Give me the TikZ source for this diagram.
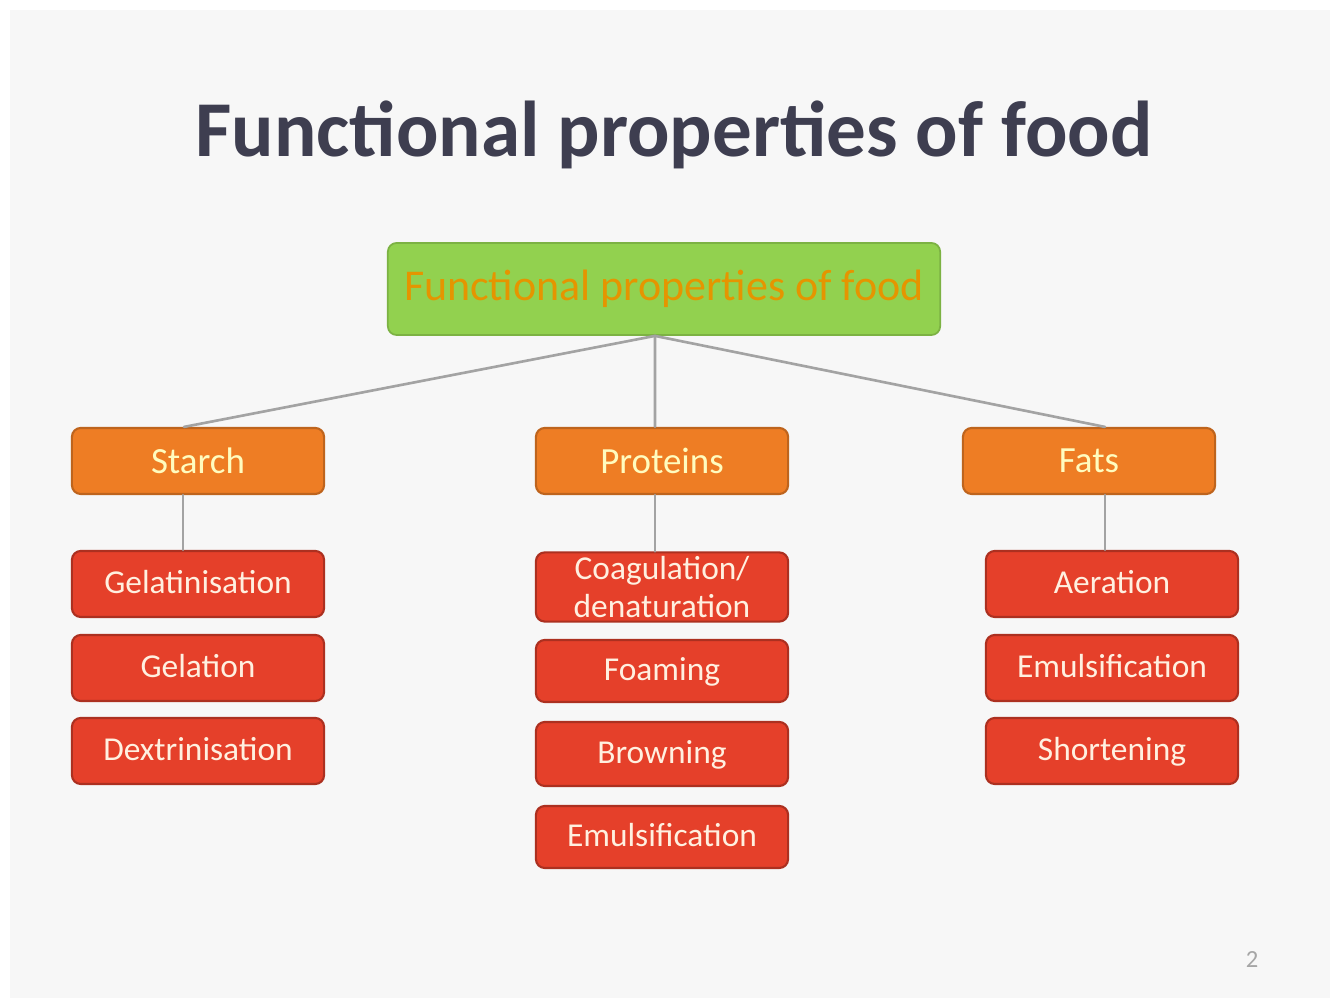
\documentclass[tikz,border=0pt]{standalone}
\usepackage{fontspec}
\setmainfont{Carlito}
\definecolor{slidegray}{HTML}{F7F7F7}
\definecolor{titleink}{HTML}{3E3E50}
\definecolor{leafgreen}{HTML}{92D14F}
\definecolor{catorange}{HTML}{EE7D24}
\definecolor{itemred}{HTML}{E5402A}
\definecolor{linkgray}{HTML}{A3A3A3}
\begin{document}
\begin{tikzpicture}[x=0.01cm,y=-0.01cm,line cap=round,line join=round,
  box/.style={rounded corners=2.5pt,inner sep=1pt,align=center,
    minimum width=2.52cm,minimum height=0.66cm},
  rootbox/.style={box,fill=leafgreen,draw=leafgreen!85!black,line width=0.5pt,
    minimum width=5.52cm,minimum height=0.92cm,font=\fontsize{12.5}{14}\selectfont,
    text=orange!70!yellow!90!black},
  catbox/.style={box,fill=catorange,draw=catorange!80!black,line width=0.6pt,
    font=\fontsize{10.5}{12}\selectfont,text=yellow!25!white},
  itembox/.style={box,fill=itemred,draw=itemred!75!black,line width=0.6pt,
    font=\fontsize{9.5}{11}\selectfont,text=orange!12!white},
  itemline/.style={itembox,text height=1.45ex,text depth=0.35ex},
  link/.style={draw=linkgray,line width=0.75pt}]
  \useasboundingbox (0,0) rectangle (1330,998);
  \fill[white] (0,0) rectangle (1330,998);
  \fill[slidegray] (10,10) rectangle (1330,998);
  % title
  \node[text=titleink,font=\fontsize{22.5}{26}\selectfont\bfseries] (title) at (674,135) {Functional properties of food};
  % top level
  \node[rootbox] (food) at (664,289) {Functional properties of food};
  % groups
  \node[catbox] (starch) at (198,461) {Starch};
  \node[catbox] (protein) at (662,461) {Proteins};
  \node[catbox] (fats) at (1089,461) {Fats};
  % starch
  \node[itemline] (gel) at (198,584) {Gelatinisation};
  \node[itemline] (gelation) at (198,668) {Gelation};
  \node[itemline] (dextrin) at (198,751) {Dextrinisation};
  % proteins
  \node[itembox,minimum height=0.67cm] (coag) at (662,587) {Coagulation/\\denaturation};
  \node[itemline,minimum height=0.62cm] (foam) at (662,671) {Foaming};
  \node[itemline,minimum height=0.64cm] (brown) at (662,754) {Browning};
  \node[itemline,minimum height=0.62cm] (pemul) at (662,837) {Emulsification};
  % fats
  \node[itemline] (aer) at (1112,584) {Aeration};
  \node[itemline] (femul) at (1112,668) {Emulsification};
  \node[itemline] (short) at (1112,751) {Shortening};
  % slide number
  \node[text=black!35,font=\fontsize{7}{8}\selectfont] (pgno) at (1252,960) {2};
  % links
  \draw[link] ([xshift=-0.09cm]food.south) -- ([xshift=-0.14cm]starch.north);
  \draw[link] ([xshift=-0.09cm]food.south) -- ([xshift=-0.07cm]protein.north);
  \draw[link] ([xshift=-0.09cm]food.south) -- ([xshift=0.16cm]fats.north);
  \draw[link] ([xshift=-0.15cm]starch.south) -- ([xshift=-0.15cm]gel.north);
  \draw[link] ([xshift=-0.07cm]protein.south) -- ([xshift=-0.07cm]coag.north);
  \draw[link] ([xshift=0.16cm]fats.south) -- ([xshift=0.16cm]fats.south |- aer.north);
\end{tikzpicture}
\end{document}
